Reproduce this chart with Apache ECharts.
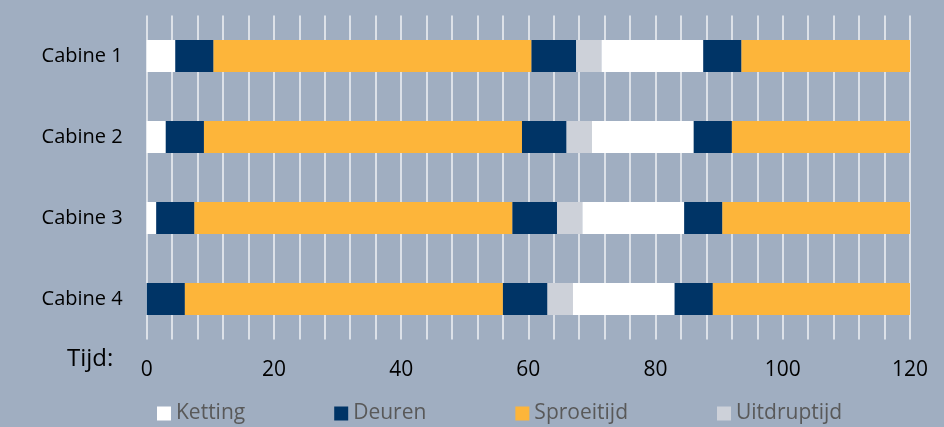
<!DOCTYPE html>
<html><head><meta charset="utf-8">
<script src="https://cdn.jsdelivr.net/npm/echarts@6/dist/echarts.min.js"></script>
<style>html,body{margin:0;padding:0;background:#a0aec1;}#c{width:944px;height:427px;}</style>
</head><body><div id="c"></div>
<script>
const categories = ['Cabine 1', 'Cabine 2', 'Cabine 3', 'Cabine 4'];
const ketting1 = [4.5, 3, 1.5, 0];
const deuren1 = [6, 6, 6, 6];
const sproei1 = [50, 50, 50, 50];
const deuren2 = [7, 7, 7, 7];
const uitdrup = [4, 4, 4, 4];
const ketting2 = [16, 16, 16, 16];
const deuren3 = [6, 6, 6, 6];
const sproei2 = [26.5, 28, 29.5, 31];
const xTickLabels = [0, 20, 40, 60, 80, 100, 120];
const legendNames = ['Ketting', 'Deuren', 'Sproeitijd', 'Uitdruptijd'];

const colors = {Ketting: '#ffffff', Deuren: '#003466', Sproeitijd: '#fdb53a', Uitdruptijd: '#cdd1d9'};
const segs = [
  ['Ketting', ketting1], ['Deuren', deuren1], ['Sproeitijd', sproei1], ['Deuren', deuren2],
  ['Uitdruptijd', uitdrup], ['Ketting', ketting2], ['Deuren', deuren3], ['Sproeitijd', sproei2]
];
const FONT = 'Open Sans';
const chart = echarts.init(document.getElementById('c'));
chart.setOption({
  animation: false,
  backgroundColor: '#a0aec1',
  textStyle: {fontFamily: FONT},
  grid: {left: 146.7, right: 34, top: 15.5, height: 324},
  xAxis: {
    type: 'value', min: 0, max: 120, interval: 4,
    axisLine: {show: false}, axisTick: {show: false},
    splitLine: {show: true, lineStyle: {color: 'rgba(255,255,255,0.85)', width: 1.5}},
    axisLabel: {
      color: '#000', fontSize: 21, fontFamily: FONT, margin: 20,
      formatter: v => xTickLabels.indexOf(v) >= 0 ? String(v) : ''
    }
  },
  yAxis: {
    type: 'category', data: categories, inverse: true,
    axisLine: {show: false}, axisTick: {show: false}, splitLine: {show: false},
    axisLabel: {color: '#000', fontSize: 20, fontFamily: FONT, margin: 24}
  },
  legend: {
    data: legendNames, left: 157, top: 403, padding: 0, itemWidth: 14, itemHeight: 14, itemGap: 89,
    icon: 'rect', selectedMode: false,
    textStyle: {color: '#595959', fontSize: 21, fontFamily: FONT}
  },
  graphic: [{
    type: 'text', left: 67, top: 347,
    style: {text: 'Tijd:', fontSize: 24, fontFamily: FONT, fill: '#000'}
  }],
  series: segs.map(([name, data]) => ({
    name, type: 'bar', stack: 'total', data, barWidth: 32,
    itemStyle: {color: colors[name]}
  }))
});
</script></body></html>
